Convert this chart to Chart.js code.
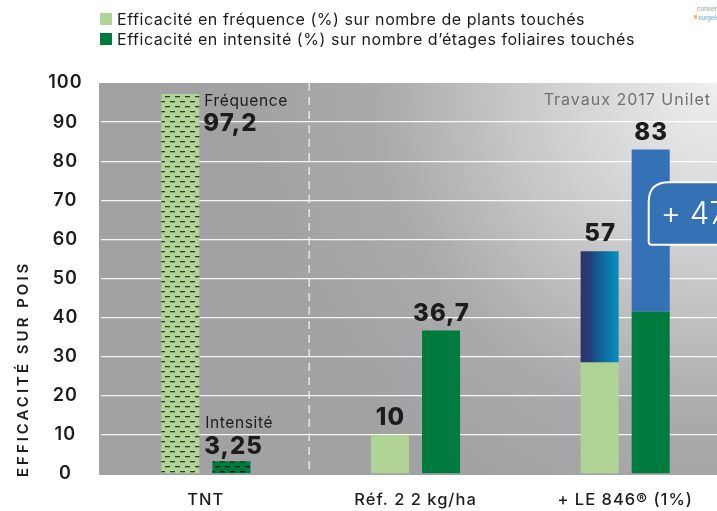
<!DOCTYPE html>
<html><head><meta charset="utf-8">
<script src="https://cdn.jsdelivr.net/npm/chart.js@4.4.1/dist/chart.umd.min.js"></script>
<style>html,body{margin:0;padding:0;overflow:hidden;background:#fff;width:717px;height:511px}canvas{display:block}</style>
</head><body><canvas id="c" width="730" height="511"></canvas>
<script>
// ---- data ----
const categories = ["TNT", "Réf. 2 2 kg/ha", "+ LE 846® (1%)"];
const frequenceBase = [97.2, 10, 28.5];
const frequenceGain = [null, null, 28.5];
const intensiteBase = [3.25, 36.7, 41.5];
const intensiteGain = [null, null, 41.5];
const yTickValues = [0, 10, 20, 30, 40, 50, 60, 70, 80, 90, 100];
const legendLabels = ["Efficacité en fréquence (%) sur nombre de plants touchés",
                      "Efficacité en intensité (%) sur nombre d’étages foliaires touchés"];
const tntCaptions = ["Fréquence", "Intensité"];
const badgeText = "+ 47 %";
const sourceText = "Travaux 2017 Unilet";
const yTitle = "EFFICACITÉ SUR POIS";

// ---- styles ----
const LIGHT = '#b0d496', DARK = '#007b3e', BLUE = '#3471b5', TXT = '#1c1c1c';
const FONT = 'Inter';
const CP = 0.487, BP = 0.745;

function makePattern(bg, dash) {
  const c = document.createElement('canvas'); c.width = 10; c.height = 10;
  const g = c.getContext('2d');
  g.fillStyle = bg; g.fillRect(0, 0, 10, 10);
  g.fillStyle = dash;
  g.fillRect(0, 1, 5, 1.3);
  g.fillRect(5, 6, 5, 1.3);
  return g.createPattern(c, 'repeat');
}
const lightPat = makePattern(LIGHT, '#2c3a2a');
const darkPat = makePattern(DARK, '#101a12');

function gainGradient(ctx) {
  const chart = ctx.chart, xs = chart.scales && chart.scales.x;
  if (!xs || ctx.dataIndex === undefined) return '#1d4f86';
  const center = xs.getPixelForValue(ctx.dataIndex);
  const slot = (xs.width / categories.length) * CP / 2;
  const left = center - slot / 2 - slot * BP / 2;
  if (!isFinite(left) || !isFinite(slot) || slot <= 0) return '#1d4f86';
  const g = chart.ctx.createLinearGradient(left, 0, left + slot * BP, 0);
  g.addColorStop(0, '#2b3468');
  g.addColorStop(0.28, '#253f78');
  g.addColorStop(0.34, '#154f88');
  g.addColorStop(1, '#0592c0');
  return g;
}

const fmt = v => String(Math.round(v * 100) / 100).replace('.', ',');

const decor = {
  id: 'decor',
  beforeDraw(chart) {
    const { ctx, chartArea: a } = chart;
    ctx.save();
    const g = ctx.createRadialGradient(717, a.top, 0, 717, a.top, 470);
    g.addColorStop(0, '#efefef');
    g.addColorStop(0.35, '#d0d0d1');
    g.addColorStop(0.72, '#aaaaac');
    g.addColorStop(1, '#a2a2a4');
    ctx.fillStyle = g;
    ctx.fillRect(a.left - 2, a.top, 717 - a.left + 2, a.bottom - a.top + 1);
    ctx.restore();
    ctx.letterSpacing = '1px';   // for the axis tick labels (wide lettering)
  },
  beforeDatasetsDraw(chart) {
    const { ctx, chartArea: a, scales: { x } } = chart;
    ctx.letterSpacing = '0px';
    const xd = (x.getPixelForValue(0) + x.getPixelForValue(1)) / 2 - 1.5;
    ctx.save();
    ctx.strokeStyle = 'rgba(255,255,255,0.85)';
    ctx.lineWidth = 1.3;
    ctx.setLineDash([8, 6]);
    ctx.beginPath(); ctx.moveTo(xd, a.top); ctx.lineTo(xd, a.bottom); ctx.stroke();
    ctx.restore();
  },
  afterDatasetsDraw(chart) {
    const { ctx, scales: { y } } = chart;
    const stacks = [[0, 1], [2, 3]];
    ctx.save();
    ctx.fillStyle = TXT;
    for (let i = 0; i < categories.length; i++) {
      stacks.forEach((ds, s) => {
        let top = Infinity, x = 0, total = 0, el0 = null;
        ds.forEach(d => {
          const v = chart.data.datasets[d].data[i];
          if (v == null) return;
          total += v;
          const el = chart.getDatasetMeta(d).data[i];
          if (!el0) el0 = el;
          if (el.y < top) { top = el.y; x = el.x; }
        });
        if (!el0) return;
        if (i === 0) {
          const lightEl = chart.getDatasetMeta(0).data[0];
          const lx = lightEl.x + lightEl.width / 2 + 5;
          ctx.textAlign = 'left'; ctx.textBaseline = 'middle';
          if (s === 0) {
            ctx.letterSpacing = '0.6px';
            ctx.font = `400 15.5px ${FONT}`; ctx.fillText(tntCaptions[0], lx, top + 7);
            ctx.letterSpacing = '1px';
            ctx.font = `800 24px ${FONT}`; ctx.fillText(fmt(total), lx - 1, top + 30);
          } else {
            ctx.letterSpacing = '0.6px';
            ctx.font = `400 15.5px ${FONT}`; ctx.fillText(tntCaptions[1], lx + 1, top - 38);
            ctx.letterSpacing = '1px';
            ctx.font = `800 24px ${FONT}`; ctx.fillText(fmt(total), lx, top - 15);
          }
        } else {
          ctx.letterSpacing = '1px';
          ctx.textAlign = 'center'; ctx.textBaseline = 'middle';
          ctx.font = `800 24px ${FONT}`;
          ctx.fillText(fmt(total), x + 0.5, top - 17);
        }
      });
    }
    ctx.letterSpacing = '0px';
    // badge
    const bEl = chart.getDatasetMeta(2).data[2];
    const bx = bEl.x - 2, bt = y.getPixelForValue(74.6), bb = y.getPixelForValue(58.6);
    const r = 20, w = 140;
    ctx.beginPath();
    ctx.moveTo(bx, bb - 3);
    ctx.lineTo(bx, bt + r);
    ctx.quadraticCurveTo(bx, bt, bx + r, bt);
    ctx.lineTo(bx + w, bt); ctx.lineTo(bx + w, bb); ctx.lineTo(bx + 3, bb);
    ctx.quadraticCurveTo(bx, bb, bx, bb - 3);
    ctx.closePath();
    ctx.fillStyle = BLUE; ctx.fill();
    ctx.strokeStyle = '#ffffff'; ctx.lineWidth = 2; ctx.stroke();
    ctx.fillStyle = '#ffffff'; ctx.font = `300 31px ${FONT}`;
    ctx.textAlign = 'left'; ctx.textBaseline = 'middle';
    ctx.fillText(badgeText, bx + 12, (bt + bb) / 2 + 1);
    ctx.restore();
  },
  afterDraw(chart) {
    const { ctx } = chart;
    ctx.save();
    const cols = [LIGHT, DARK];
    legendLabels.forEach((t, k) => {
      const cy = 19 + k * 20;
      ctx.fillStyle = cols[k]; ctx.fillRect(100, cy - 6, 12, 12);
      ctx.fillStyle = TXT; ctx.font = `400 16px ${FONT}`;
      ctx.letterSpacing = '0.55px';
      ctx.textAlign = 'left'; ctx.textBaseline = 'middle';
      ctx.fillText(t, 117, cy + 1);
    });
    ctx.fillStyle = '#707070'; ctx.font = `400 16px ${FONT}`;
    ctx.letterSpacing = '1px';
    ctx.textAlign = 'right'; ctx.textBaseline = 'middle';
    ctx.fillText(sourceText, 711, 100);
    ctx.letterSpacing = '0px';
    ctx.textAlign = 'left'; ctx.font = `600 6px ${FONT}`;
    ctx.fillStyle = '#9fb8a4'; ctx.fillText('conserve', 697, 9);
    ctx.fillStyle = '#f2c55a'; ctx.fillRect(694, 15, 3, 4);
    ctx.fillStyle = '#84b4dc'; ctx.fillText('surgelé', 698, 18);
    ctx.translate(23, 477); ctx.rotate(-Math.PI / 2);
    ctx.fillStyle = TXT; ctx.font = `600 15px ${FONT}`;
    ctx.letterSpacing = '3px';
    ctx.textAlign = 'left'; ctx.textBaseline = 'middle';
    ctx.fillText(yTitle, 0, 0);
    ctx.restore();
  }
};

new Chart(document.getElementById('c'), {
  type: 'bar',
  data: {
    labels: categories,
    datasets: [
      { label: legendLabels[0], data: frequenceBase, stack: 'f',
        backgroundColor: ctx => ctx.dataIndex === 0 ? lightPat : LIGHT },
      { label: legendLabels[0] + ' (gain)', data: frequenceGain, stack: 'f', backgroundColor: gainGradient },
      { label: legendLabels[1], data: intensiteBase, stack: 'i',
        backgroundColor: ctx => ctx.dataIndex === 0 ? darkPat : DARK },
      { label: legendLabels[1] + ' (gain)', data: intensiteGain, stack: 'i', backgroundColor: BLUE }
    ]
  },
  options: {
    responsive: false, animation: false, devicePixelRatio: 1,
    categoryPercentage: CP, barPercentage: BP,
    layout: { padding: { top: 83, left: 0, right: 0, bottom: 0 } },
    plugins: { legend: { display: false }, tooltip: { enabled: false } },
    scales: {
      x: {
        stacked: true,
        grid: { display: false, drawTicks: false },
        border: { display: false },
        ticks: { color: TXT, font: { family: FONT, size: 16.5, weight: '500' }, padding: 16, maxRotation: 0 },
        afterFit: s => { s.height = 37; }
      },
      y: {
        stacked: true, min: 0, max: 100,
        afterBuildTicks: s => { s.ticks = yTickValues.map(v => ({ value: v })); },
        grid: {
          drawTicks: false, tickLength: 0, lineWidth: 1.3,
          color: c => (c.tick && (c.tick.value === 0 || c.tick.value === 100)) ? 'rgba(0,0,0,0)' : 'rgba(255,255,255,0.9)'
        },
        border: { display: false },
        ticks: { color: TXT, font: { family: FONT, size: 18, weight: '600' }, crossAlign: 'center', padding: 20 },
        afterFit: s => { s.width = 101; }
      }
    }
  },
  plugins: [decor]
});
</script></body></html>
